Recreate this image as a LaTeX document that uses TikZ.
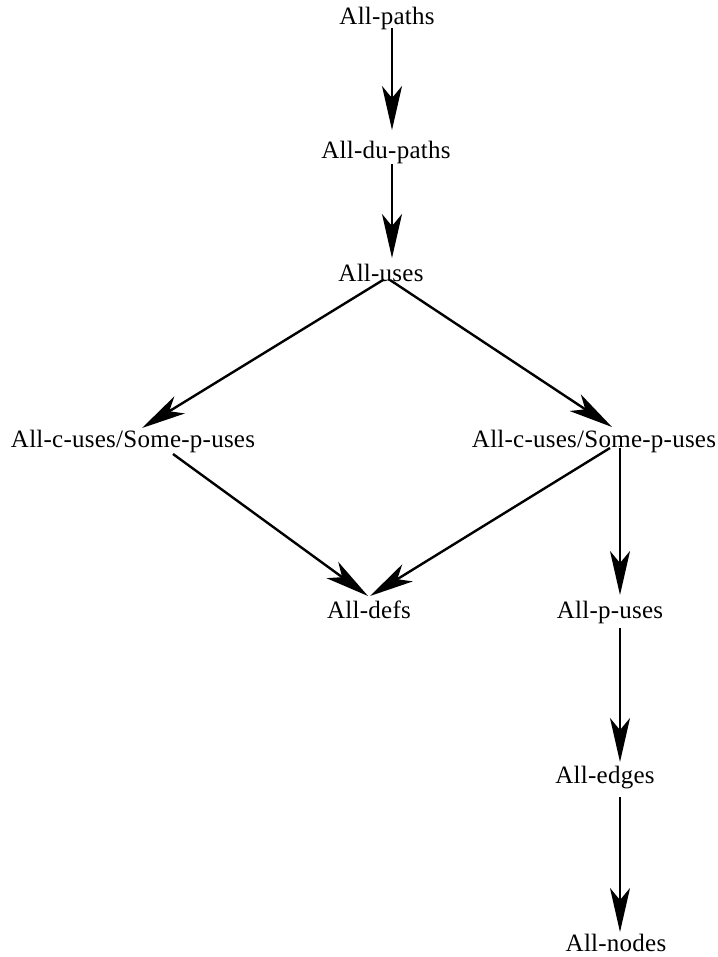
\documentclass[tikz,border=0pt]{standalone}
\usepackage{fontspec}
\setmainfont[LetterSpace=1]{Liberation Serif}
\usetikzlibrary{arrows.meta}

\begin{document}
\begin{tikzpicture}[
    x=0.5pt, y=-0.5pt,
    lbl/.style={inner sep=0pt, font=\fontsize{12.5}{15}\selectfont},
    arr/.style={-{Stealth[length=22pt, width=10pt, inset=6pt]}, line width=1.2pt, black},
]
\useasboundingbox (0,0) rectangle (717,957);

\node[lbl] (paths) at (387,18) {All-paths};
\node[lbl] (dupaths) at (386,152) {All-du-paths};
\node[lbl] (uses) at (381,273) {All-uses};
\node[lbl] (cleft) at (133,441) {All-c-uses/Some-p-uses};
\node[lbl] (cright) at (594,441) {All-c-uses/Some-p-uses};
\node[lbl] (defs) at (369,610) {All-defs};
\node[lbl] (puses) at (610,612) {All-p-uses};
\node[lbl] (edges) at (605,778) {All-edges};
\node[lbl] (allnodes) at (616,943) {All-nodes};

% top chain
\draw[arr] ([shift={(5,10)}]paths.center) -- ([shift={(6,-22)}]dupaths.center);
\draw[arr] ([shift={(6,12)}]dupaths.center) -- ([shift={(11,-15)}]uses.center);

% diamond
\draw[arr] ([shift={(2,7)}]uses.center) -- ([shift={(9,-13)}]cleft.center);
\draw[arr] ([shift={(9,7)}]uses.center) -- ([shift={(18,-14)}]cright.center);
\draw[arr] ([shift={(40,13)}]cleft.center) -- ([shift={(-1,-14)}]defs.center);
\draw[arr] ([shift={(16,7)}]cright.center) -- ([shift={(1,-14)}]defs.center);

% right chain
\draw[arr] ([shift={(26,7)}]cright.center) -- ([shift={(10,-17)}]puses.center);
\draw[arr] ([shift={(10,16)}]puses.center) -- ([shift={(15,-16)}]edges.center);
\draw[arr] ([shift={(15,19)}]edges.center) -- ([shift={(4,-11)}]allnodes.center);

\end{tikzpicture}
\end{document}
